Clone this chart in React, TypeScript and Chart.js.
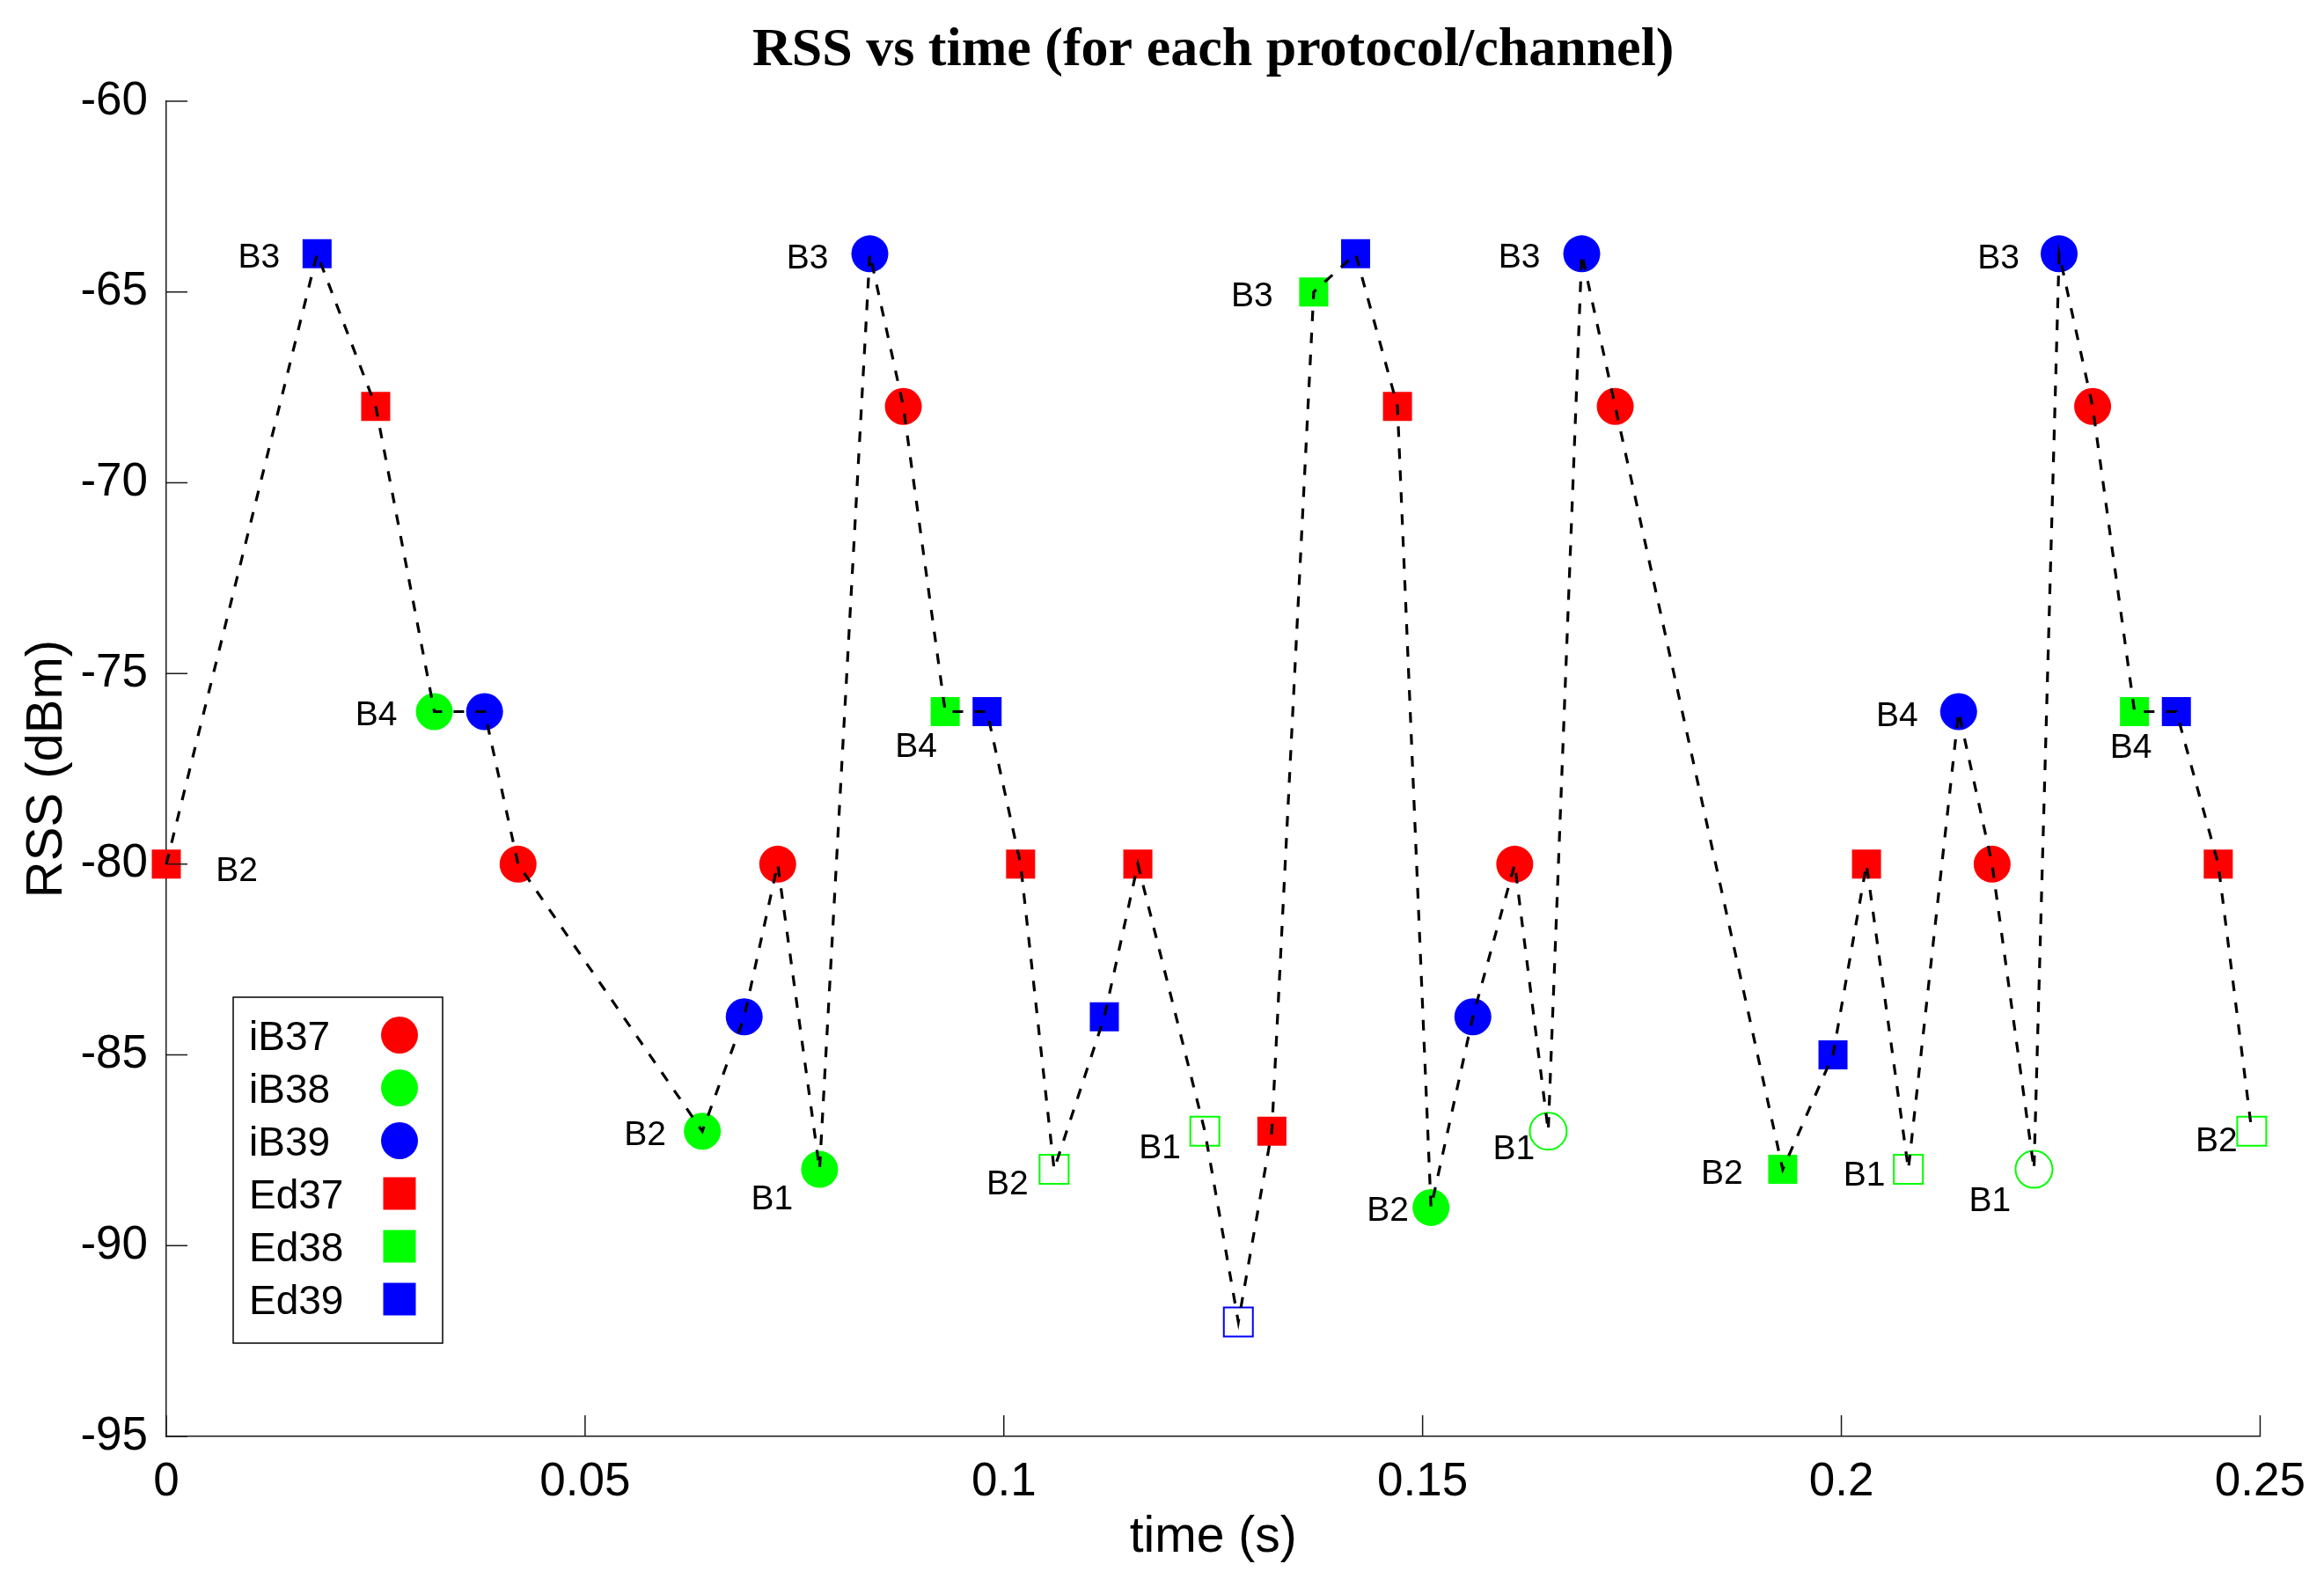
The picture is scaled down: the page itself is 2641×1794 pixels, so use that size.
import React, { useEffect, useRef } from 'react';
import { Chart, registerables } from 'chart.js';

Chart.register(...registerables);

// ---------------- data ----------------
const TIME_S = [
  0, 0.018, 0.025, 0.032, 0.038, 0.042, 0.064, 0.069, 0.073, 0.078,
  0.084, 0.088, 0.093, 0.098, 0.102, 0.106, 0.112, 0.116, 0.124, 0.128,
  0.132, 0.137, 0.142, 0.147, 0.151, 0.156, 0.161, 0.165, 0.169, 0.173,
  0.193, 0.199, 0.203, 0.208, 0.214, 0.218, 0.223, 0.226, 0.230, 0.235,
  0.240, 0.245, 0.249,
];
const RSS_DBM = [
  -80, -64, -68, -76, -76, -80, -87, -84, -80, -88,
  -64, -68, -76, -76, -80, -88, -84, -80, -87, -92,
  -87, -65, -64, -68, -89, -84, -80, -87, -64, -68,
  -88, -85, -80, -88, -76, -80, -88, -64, -68, -76,
  -76, -80, -87,
];
const SERIES_OF_POINT = [
  'Ed37', 'Ed39', 'Ed37', 'iB38', 'iB39', 'iB37', 'iB38', 'iB39', 'iB37', 'iB38',
  'iB39', 'iB37', 'Ed38', 'Ed39', 'Ed37', 'Ed38', 'Ed39', 'Ed37', 'Ed38', 'Ed39',
  'Ed37', 'Ed38', 'Ed39', 'Ed37', 'iB38', 'iB39', 'iB37', 'iB38', 'iB39', 'iB37',
  'Ed38', 'Ed39', 'Ed37', 'Ed38', 'iB39', 'iB37', 'iB38', 'iB39', 'iB37', 'Ed38',
  'Ed39', 'Ed37', 'Ed38',
];
// 1 = hollow (unfilled) marker
const HOLLOW = [
  0, 0, 0, 0, 0, 0, 0, 0, 0, 0,
  0, 0, 0, 0, 0, 1, 0, 0, 1, 1,
  0, 0, 0, 0, 0, 0, 0, 1, 0, 0,
  0, 0, 0, 1, 0, 0, 1, 0, 0, 0,
  0, 0, 1,
];
const POINT_LABELS = [
  'B2', 'B3', '', 'B4', '', '', 'B2', '', '', 'B1',
  'B3', '', 'B4', '', '', 'B2', '', '', 'B1', '',
  '', 'B3', '', '', 'B2', '', '', 'B1', 'B3', '',
  'B2', '', '', 'B1', 'B4', '', 'B1', 'B3', '', 'B4',
  '', '', 'B2',
];
const SERIES_NAMES = ['iB37', 'iB38', 'iB39', 'Ed37', 'Ed38', 'Ed39'];
const X_TICKS = [0, 0.05, 0.1, 0.15, 0.2, 0.25];
const Y_TICKS = [-95, -90, -85, -80, -75, -70, -65, -60];
const TITLE = 'RSS vs time (for each protocol/channel)';
const X_TITLE = 'time (s)';
const Y_TITLE = 'RSS (dBm)';

// ---------------- styles / layout ----------------
const W = 2641;
const H = 1794;
const SANS = "'Liberation Sans', Arial, Helvetica, sans-serif";
const SERIF = "'Liberation Serif', 'Times New Roman', serif";
const AXIS_COLOR = '#1a1a1a';
const SERIES_STYLE: Record<string, { color: string; shape: 'circle' | 'rect' }> = {
  iB37: { color: '#ff0000', shape: 'circle' },
  iB38: { color: '#00ff00', shape: 'circle' },
  iB39: { color: '#0000ff', shape: 'circle' },
  Ed37: { color: '#ff0000', shape: 'rect' },
  Ed38: { color: '#00ff00', shape: 'rect' },
  Ed39: { color: '#0000ff', shape: 'rect' },
};
const CIRCLE_R = 21;
const SQUARE_SIDE = 33;
const RECT_R = SQUARE_SIDE / 2 / Math.SQRT1_2;
// label offsets (px) of label centre from its point
const LABEL_OFFSETS: [number, number][] = [
  [80, 5], [-66, 2], [0, 0], [-66, 2], [0, 0], [0, 0], [-65, 2], [0, 0], [0, 0], [-54, 31],
  [-71, 3], [0, 0], [-33, 38], [0, 0], [0, 0], [-53, 14], [0, 0], [0, 0], [-51, 17], [0, 0],
  [0, 0], [-70, 2], [0, 0], [0, 0], [-49, 1], [0, 0], [0, 0], [-39, 18], [-71, 2], [0, 0],
  [-69, 2], [0, 0], [0, 0], [-50, 4], [-70, 3], [0, 0], [-50, 33], [-69, 3], [0, 0], [-4, 39],
  [0, 0], [0, 0], [-40, 9],
];

const fmtTick = (v: number) => String(parseFloat(Number(v).toFixed(3)));

const markerDatasets = SERIES_NAMES.map((name) => {
  const st = SERIES_STYLE[name];
  const idx = TIME_S.map((_, i) => i).filter((i) => SERIES_OF_POINT[i] === name);
  return {
    label: name,
    data: idx.map((i) => ({ x: TIME_S[i], y: RSS_DBM[i] })),
    showLine: false,
    pointStyle: st.shape,
    pointRadius: st.shape === 'circle' ? CIRCLE_R : RECT_R,
    pointBackgroundColor: idx.map((i) => (HOLLOW[i] ? 'rgba(0,0,0,0)' : st.color)),
    pointBorderColor: st.color,
    pointBorderWidth: idx.map((i) => (HOLLOW[i] ? 2 : 0)),
    order: 1,
    clip: false as const,
  };
});

const lineDataset = {
  label: 'path',
  data: TIME_S.map((t, i) => ({ x: t, y: RSS_DBM[i] })),
  showLine: true,
  borderColor: '#000',
  borderWidth: 3.2,
  borderDash: [12, 13],
  pointRadius: 0,
  fill: false,
  tension: 0,
  order: 0,
  clip: false as const,
};

const decorPlugin = {
  id: 'decor',
  beforeDraw(chart: any) {
    const ctx = chart.ctx;
    ctx.save();
    ctx.fillStyle = '#ffffff';
    ctx.fillRect(0, 0, chart.width, chart.height);
    ctx.restore();
  },
  afterDraw(chart: any) {
    const ctx: CanvasRenderingContext2D = chart.ctx;
    const xs = chart.scales.x;
    const ys = chart.scales.y;
    const area = chart.chartArea;
    ctx.save();

    // inward ticks
    ctx.strokeStyle = AXIS_COLOR;
    ctx.lineWidth = 1.5;
    ctx.beginPath();
    Y_TICKS.forEach((v) => {
      const py = ys.getPixelForValue(v);
      ctx.moveTo(area.left, py);
      ctx.lineTo(area.left + 24, py);
    });
    X_TICKS.forEach((v) => {
      const px = xs.getPixelForValue(v);
      ctx.moveTo(px, area.bottom);
      ctx.lineTo(px, area.bottom - 24);
    });
    ctx.stroke();

    // title
    ctx.fillStyle = '#000';
    ctx.textAlign = 'center';
    ctx.textBaseline = 'alphabetic';
    ctx.font = `bold 62px ${SERIF}`;
    ctx.fillText(TITLE, (area.left + area.right) / 2, 74);

    // x title
    ctx.font = `57px ${SANS}`;
    ctx.fillText(X_TITLE, (area.left + area.right) / 2, 1763);

    // y title
    ctx.save();
    ctx.translate(70, (area.top + area.bottom) / 2);
    ctx.rotate(-Math.PI / 2);
    ctx.font = `58px ${SANS}`;
    ctx.fillText(Y_TITLE, 0, 0);
    ctx.restore();

    // point labels
    ctx.font = `39px ${SANS}`;
    ctx.textAlign = 'center';
    POINT_LABELS.forEach((lab, i) => {
      if (!lab) return;
      const px = xs.getPixelForValue(TIME_S[i]) + LABEL_OFFSETS[i][0];
      const py = ys.getPixelForValue(RSS_DBM[i]) + LABEL_OFFSETS[i][1];
      ctx.fillText(lab, px, py + 14);
    });

    // legend
    const bx = 265, by = 1133, bw = 238, bh = 393;
    ctx.fillStyle = '#fff';
    ctx.fillRect(bx, by, bw, bh);
    ctx.strokeStyle = '#000';
    ctx.lineWidth = 1.5;
    ctx.strokeRect(bx, by, bw, bh);
    ctx.font = `46px ${SANS}`;
    ctx.textAlign = 'left';
    chart.data.datasets.forEach((ds: any) => {
      const k = SERIES_NAMES.indexOf(ds.label);
      if (k < 0) return;
      const cy = 1176 + k * 60;
      const st = SERIES_STYLE[ds.label];
      ctx.fillStyle = '#000';
      ctx.fillText(ds.label, 283, cy + 16.5);
      ctx.fillStyle = st.color;
      if (st.shape === 'circle') {
        ctx.beginPath();
        ctx.arc(454, cy, CIRCLE_R, 0, Math.PI * 2);
        ctx.fill();
      } else {
        const s = 37;
        ctx.fillRect(454 - s / 2, cy - s / 2, s, s);
      }
    });

    ctx.restore();
  },
};

export default function App() {
  const ref = useRef<HTMLCanvasElement>(null);
  useEffect(() => {
    const canvas = ref.current;
    if (!canvas) return;
    const chart = new Chart(canvas, {
      type: 'scatter',
      data: { datasets: [lineDataset as any, ...(markerDatasets as any[])] },
      options: {
        animation: false,
        responsive: false,
        devicePixelRatio: 1,
        events: [],
        layout: { padding: { top: 115, right: 71, bottom: 0, left: 0 } },
        plugins: {
          legend: { display: false },
          title: { display: false },
          tooltip: { enabled: false },
        },
        scales: {
          x: {
            type: 'linear',
            min: 0,
            max: 0.25,
            afterBuildTicks: (s: any) => {
              s.ticks = X_TICKS.map((v) => ({ value: v }));
            },
            afterFit: (s: any) => {
              s.height = 162;
            },
            grid: { display: false, drawTicks: false },
            border: { display: true, color: AXIS_COLOR, width: 1.5 },
            ticks: {
              padding: 21,
              color: '#000',
              font: { family: SANS, size: 53 },
              maxRotation: 0,
              autoSkip: false,
              callback: (v: any) => fmtTick(v),
            },
          },
          y: {
            type: 'linear',
            min: -95,
            max: -60,
            afterBuildTicks: (s: any) => {
              s.ticks = Y_TICKS.map((v) => ({ value: v }));
            },
            afterFit: (s: any) => {
              s.width = 189;
            },
            grid: { display: false, drawTicks: false },
            border: { display: true, color: AXIS_COLOR, width: 1.5 },
            ticks: {
              padding: 21,
              color: '#000',
              font: { family: SANS, size: 53 },
              autoSkip: false,
              callback: (v: any) => fmtTick(v),
            },
          },
        },
      } as any,
      plugins: [decorPlugin],
    });
    return () => chart.destroy();
  }, []);
  return (
    <div style={{ position: 'absolute', left: 0, top: 0, width: W, height: H, background: '#fff' }}>
      <canvas ref={ref} width={W} height={H} style={{ display: 'block', width: W, height: H }} />
    </div>
  );
}
